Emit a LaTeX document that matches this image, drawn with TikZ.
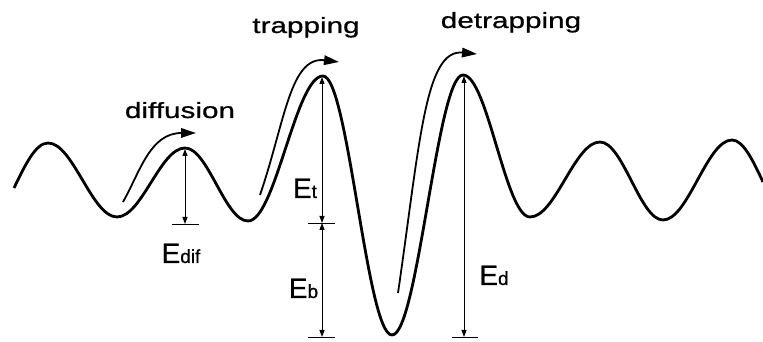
\documentclass[tikz,border=0pt]{standalone}
\usepackage{fontspec}
\setmainfont{Liberation Sans}
\newfontfamily\labfont[FakeStretch=1.35,FakeBold=0.8]{Liberation Sans}
\newfontfamily\efont[FakeBold=0.6]{Liberation Sans}
\usetikzlibrary{arrows.meta,calc}
\begin{document}
\begin{tikzpicture}[x=1pt,y=1pt,
  wave/.style={line width=2.8pt},
  motion/.style={line width=1.8pt, -{Triangle[length=15pt,width=9.5pt]}},
  dim/.style={line width=0.9pt, {Triangle[length=7pt,width=5pt]}-{Triangle[length=7pt,width=5pt]}},
  tickline/.style={line width=0.9pt},
  toplab/.style={font=\labfont\fontsize{22}{22}\selectfont, anchor=base, inner sep=0pt},
  elab/.style={font=\efont\fontsize{28}{28}\selectfont, anchor=base, inner sep=0pt}]
\useasboundingbox (0,0) rectangle (763,342);
% wave key points
\coordinate (S) at (14,154);
\coordinate (P1) at (48,199);
\coordinate (T1) at (117,125);
\coordinate (P2) at (185,194);
\coordinate (T2) at (248,121);
\coordinate (P3) at (323,266);
\coordinate (T3) at (392,7);
\coordinate (P4) at (463,267);
\coordinate (T4) at (530,125);
\coordinate (P5) at (600,200);
\coordinate (T5) at (663,122);
\coordinate (P6) at (732,202);
\coordinate (E) at (763,160);
\draw[wave] (S) sin (P1)
  cos ($(P1)!0.5!(T1)$) sin (T1)
  cos ($(T1)!0.5!(P2)$) sin (P2)
  cos ($(P2)!0.5!(T2)$) sin (T2)
  cos ($(T2)!0.5!(P3)$) sin (P3)
  cos ($(P3)!0.5!(T3)$) sin (T3)
  cos ($(T3)!0.5!(P4)$) sin (P4)
  cos ($(P4)!0.5!(T4)$) sin (T4)
  cos ($(T4)!0.5!(P5)$) sin (P5)
  cos ($(P5)!0.5!(T5)$) sin (T5)
  cos ($(T5)!0.5!(P6)$) sin (P6)
  cos (E);
% motion arrows
\coordinate (d0) at (123,140);
\coordinate (d1) at (196,209);
\draw[motion] (d0) .. controls (140,170) and (150,209) .. (d1);
\coordinate (t0) at (260,147);
\coordinate (t1) at (339,280);
\draw[motion] (t0) .. controls (285,220) and (290,286) .. (t1);
\coordinate (r0) at (398,49);
\coordinate (r1) at (477,288);
\draw[motion] (r0) .. controls (420,200) and (425,293) .. (r1);
% labels
\node[toplab] (ldif) at (180,224) {diffusion};
\node[toplab] (ltrap) at (306,309) {trapping};
\node[toplab] (ldet) at (511,314) {detrapping};
% dimension lines
\coordinate (edtop) at (185,193);
\coordinate (edbot) at (185,118);
\draw[dim] (edtop) -- (edbot);
\draw[tickline] ($(edbot)+(-13,0)$) -- ($(edbot)+(14,0)$);
\coordinate (ettop) at (322,265);
\coordinate (etmid) at (322,119);
\coordinate (etbot) at (322,5);
\draw[dim] (ettop) -- (etmid);
\draw[dim] (etmid) -- (etbot);
\draw[tickline] ($(etmid)+(-14,0)$) -- ($(etmid)+(13,0)$);
\draw[tickline] ($(etbot)+(-14,0)$) -- ($(etbot)+(13,0)$);
\coordinate (eddtop) at (464,266);
\coordinate (eddbot) at (464,5);
\draw[dim] (eddtop) -- (eddbot);
\draw[tickline] ($(eddbot)+(-12,0)$) -- ($(eddbot)+(14,0)$);
\node[elab] (lEdif) at (181,79) {E{\fontsize{19}{19}\selectfont dif}};
\node[elab] (lEt) at (305,144) {E{\fontsize{19}{19}\selectfont t}};
\node[elab] (lEb) at (303.5,44) {E{\fontsize{19}{19}\selectfont b}};
\node[elab] (lEd) at (494,57) {E{\fontsize{19}{19}\selectfont d}};
\end{tikzpicture}
\end{document}
